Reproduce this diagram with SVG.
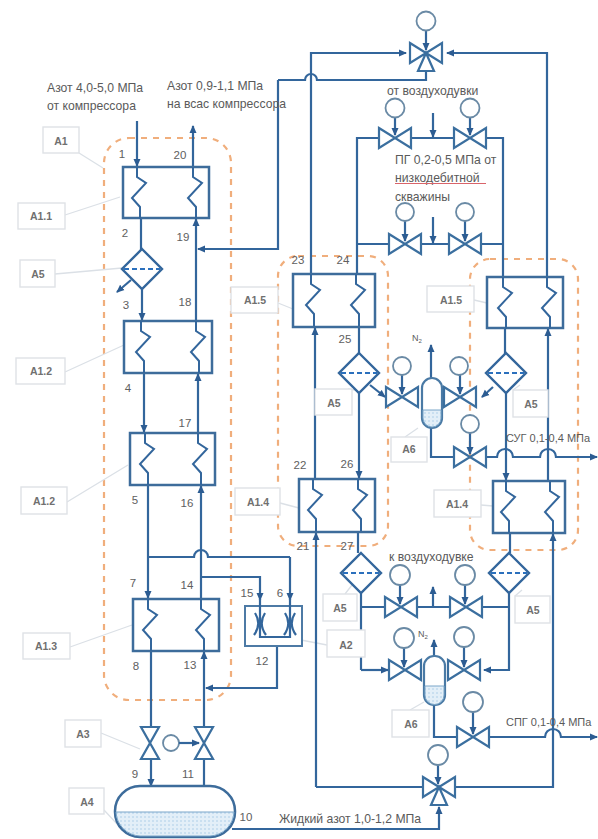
<svg xmlns="http://www.w3.org/2000/svg" width="598" height="839" viewBox="0 0 598 839">
<style>
text{font-family:"Liberation Sans",Arial,sans-serif;font-size:12.2px;fill:#5a5a5a}
.s{font-size:11px}
.n{font-size:11.5px;text-anchor:middle;fill:#606060}
.lb{font-size:10.5px;text-anchor:middle;font-weight:bold;fill:#707070}
.box{fill:#fff;stroke:#dfe2e6;stroke-width:1.4}
.lead{fill:none;stroke:#dbe0e6;stroke-width:1.3}
.zone{fill:none;stroke:#f0ae7c;stroke-width:2.2;stroke-dasharray:6 6}
.l{fill:none;stroke:#33669c;stroke-width:2.2}
.a{marker-end:url(#ah)}
.hx{fill:#fff;stroke:#3d6c9b;stroke-width:2.5}
.coil{fill:none;stroke:#33669c;stroke-width:2}
.v{fill:#fff;stroke:#3b6f9f;stroke-width:2.2;stroke-linejoin:miter}
.c{fill:#fff;stroke:#6a8aa5;stroke-width:1.8}
.d{fill:#fff;stroke:#33669c;stroke-width:2.4}
.dl{stroke:#2b70bd;stroke-width:2;stroke-dasharray:5 3}
.ves{fill:#fff;stroke:#4a7aa5;stroke-width:2.2}
.liq{fill:url(#dots);stroke:#7aa6c9;stroke-width:1}
</style>
<defs>
<marker id="ah" markerUnits="userSpaceOnUse" markerWidth="9" markerHeight="8" refX="7" refY="4" orient="auto"><path d="M0,0.5 L8,4 L0,7.5Z" fill="#2c5c92"/></marker>
<pattern id="dots" width="4" height="4" patternUnits="userSpaceOnUse"><rect width="4" height="4" fill="#e3eff8"/><circle cx="1" cy="1" r="0.8" fill="#a9cce6"/></pattern>
<path id="coil" class="coil" d="M0,0 V10 L9,16 L-5,31 L3,40 V52"/>
<path id="valveH" class="v" d="M-16,-10 L16,10 V-10 L-16,10Z"/>
<path id="valveV" class="v" d="M-9,-16 H9 L-9,16 H9Z"/>
<path id="valve3" class="v" d="M-16,-10 L16,10 V-10 L-16,10Z M0,0 L8,18 H-8Z"/>
<g id="diamond"><path class="d" d="M0,-20 L20,0 L0,20 L-20,0Z"/><path class="dl" d="M-18,0 H18"/></g>
</defs>
<rect width="598" height="839" fill="#fff"/>

<g id="zones">
<rect class="zone" x="104" y="138" width="127" height="562" rx="25"/>
<rect class="zone" x="278" y="256" width="110" height="290" rx="20"/>
<rect class="zone" x="470" y="259" width="108" height="291" rx="20"/>
</g>

<g id="leaders">
<path class="lead" d="M79,153 L103,168 M65,215 L120,197 M55,274 L122,268 M278,303 L293,309 M65,372 L124,345 M67,502 L128,465 M280,503 L299,508 M70,647 L132,625 M301,640 L327,645 M101,733 L140,749 M104,810 L118,825 M348,389 L355,390 M345,594 L352,585 M515,596 L522,590 M405,437 L418,428 M410,710 L424,702 M474,300 L487,303 M513,390 L520,385 M481,505 L493,506"/>
</g>

<g id="connectors">
<path class="l a" d="M137,121 V166"/>
<path class="l a" d="M193,167 V126"/>
<path class="l" d="M141,218 V252"/>
<path class="l a" d="M142,288 V320"/>
<path class="l a" d="M196,321 V219"/>
<path class="l a" d="M278,80 V249 H198"/>
<path class="l" d="M278,80 H305 A6,6 0 0 1 317,80 H426 V70"/>
<path class="l a" d="M311,274 V53 H406"/>
<path class="l a" d="M547,277 V53 H447"/>
<path class="l" d="M357,274 V138 H380"/>
<path class="l" d="M503,277 V138 H486"/>
<path class="l" d="M411,138 H455"/>
<path class="l a" d="M433,113 V137"/>
<path class="l" d="M357,244 H390 M420,244 H450 M480,244 H503"/>
<path class="l a" d="M433,217 V243"/>
<path class="l a" d="M315,479 V328"/>
<path class="l" d="M359,327 V356"/>
<path class="l a" d="M359,393 V478"/>
<path class="l a" d="M548,481 V329"/>
<path class="l" d="M505,328 V356"/>
<path class="l a" d="M506,393 V480"/>
<path class="l a" d="M144,373 V432"/>
<path class="l a" d="M198,433 V374"/>
<path class="l a" d="M148,485 V598"/>
<path class="l a" d="M201,599 V486"/>
<path class="l" d="M148,557 H194 A7,7 0 0 1 208,557 H290"/>
<path class="l a" d="M290,557 V600"/>
<path class="l a" d="M202,577 H260 V600"/>
<path class="l" d="M151,651 V727"/>
<path class="l a" d="M204,727 V652"/>
<path class="l a" d="M277,637 V688 H206"/>
<path class="l a" d="M151,759 V786"/>
<path class="l" d="M204,759 V786"/>
<path class="l a" d="M232,829 H439 V807"/>
<path class="l a" d="M316,787 H423 M316,787 V533"/>
<path class="l a" d="M455,787 H553 V534"/>
<path class="l" d="M358,532 V553"/>
<path class="l" d="M510,533 V553"/>
<path class="l" d="M361,593 V670"/>
<path class="l a" d="M361,670 H388"/>
<path class="l a" d="M509,593 V670 H484"/>
<path class="l" d="M361,607 H385 M417,607 H450 M482,607 H509"/>
<path class="l a" d="M433,607 V587"/>
<path class="l a" d="M431,378 V345"/>
<path class="l a" d="M434,656 V640"/>
<path class="l a" d="M370,385 L385,397"/>
<path class="l a" d="M493,387 L482,397"/>
<path class="l" d="M431,428 V457 H454"/>
<path class="l a" d="M486,457 H497 A8,8 0 0 1 513,457 H540 A8,8 0 0 1 556,457 H597"/>
<path class="l" d="M434,705 V737 H457"/>
<path class="l a" d="M489,737 H545 A8,8 0 0 1 561,737 H597"/>
<path class="l a" d="M131,280 L117,292"/>
</g>

<g id="A1-1"><rect class="hx" x="123" y="167" width="86" height="51"/><use href="#coil" x="137" y="167"/><use href="#coil" x="193" y="167"/></g>
<g id="A1-2a"><rect class="hx" x="124" y="321" width="88" height="52"/><use href="#coil" x="141" y="321"/><use href="#coil" x="196" y="321"/></g>
<g id="A1-2b"><rect class="hx" x="130" y="433" width="85" height="52"/><use href="#coil" x="145" y="433"/><use href="#coil" x="198" y="433"/></g>
<g id="A1-3"><rect class="hx" x="133" y="599" width="86" height="52"/><use href="#coil" x="148" y="599"/><use href="#coil" x="201" y="599"/></g>
<g id="A1-5l"><rect class="hx" x="293" y="274" width="82" height="53"/><use href="#coil" x="311" y="274"/><use href="#coil" x="356" y="274"/></g>
<g id="A1-4l"><rect class="hx" x="299" y="479" width="76" height="53"/><use href="#coil" x="313" y="479"/><use href="#coil" x="358" y="479"/></g>
<g id="A1-5r"><rect class="hx" x="487" y="277" width="76" height="51"/><use href="#coil" x="503" y="277"/><use href="#coil" x="547" y="277"/></g>
<g id="A1-4r"><rect class="hx" x="493" y="481" width="72" height="52"/><use href="#coil" x="506" y="481"/><use href="#coil" x="550" y="481"/></g>

<g id="A2"><rect x="245" y="606" width="57" height="40" fill="#fff" stroke="#4d7aa5" stroke-width="2"/>
<path class="l" d="M255,613 Q262,624 254,635 M265,613 Q258,624 266,635 M285,613 Q292,624 284,635 M295,613 Q288,624 296,635 M260,599 V637 H290 V599"/></g>

<g id="A5a"><use href="#diamond" x="142" y="269"/></g>
<g id="A5b"><use href="#diamond" x="359" y="373"/></g>
<g id="A5c"><use href="#diamond" x="506" y="373"/></g>
<g id="A5d"><use href="#diamond" x="361" y="573"/></g>
<g id="A5e"><use href="#diamond" x="509" y="573"/></g>

<g id="A3"><use href="#valveV" x="150" y="743"/><use href="#valveV" x="204" y="743"/><circle class="c" cx="171" cy="743" r="8"/><path class="l a" d="M179,743 H199"/></g>

<g id="A4"><rect x="115" y="786" width="120" height="51" rx="25" ry="25" fill="#fff" stroke="#3d6c9b" stroke-width="2.5"/>
<path class="liq" d="M116,812 H234 A25,25 0 0 1 210,836 H140 A25,25 0 0 1 116,812Z"/></g>

<g id="A6a"><rect class="ves" x="422" y="378" width="20" height="50" rx="10"/><path class="liq" d="M423,410 H441 V418 A9,9 0 0 1 423,418Z"/></g>
<g id="A6b"><rect class="ves" x="424" y="656" width="21" height="49" rx="10"/><path class="liq" d="M425,686 H444 V695 A9,9 0 0 1 425,695Z"/></g>

<g id="valve-top"><use href="#valve3" x="426" y="53"/><path class="l a" d="M426,30 V50"/><circle class="c" cx="426" cy="21" r="9.5"/></g>
<g id="valve-bottom"><use href="#valve3" x="439" y="787"/><path class="l a" d="M438,765 V784"/><circle class="c" cx="438" cy="755" r="10"/></g>
<g id="valve-1"><use href="#valveH" x="395" y="138"/><path class="l a" d="M395,117 V135"/><circle class="c" cx="395" cy="108" r="9.5"/></g>
<g id="valve-2"><use href="#valveH" x="470" y="138"/><path class="l a" d="M470,117 V135"/><circle class="c" cx="470" cy="108" r="9.5"/></g>
<g id="valve-3"><use href="#valveH" x="405" y="244"/><path class="l a" d="M405,221 V241"/><circle class="c" cx="405" cy="212" r="9"/></g>
<g id="valve-4"><use href="#valveH" x="465" y="244"/><path class="l a" d="M465,221 V241"/><circle class="c" cx="465" cy="212" r="9"/></g>
<g id="valve-5"><use href="#valveH" x="402" y="397"/><path class="l a" d="M402,375 V394"/><circle class="c" cx="402" cy="366" r="9"/></g>
<g id="valve-6"><use href="#valveH" x="460" y="397"/><path class="l a" d="M460,375 V394"/><circle class="c" cx="459" cy="366" r="9"/></g>
<g id="valve-7"><use href="#valveH" x="470" y="457"/><path class="l a" d="M470,433 V454"/><circle class="c" cx="470" cy="424" r="9"/></g>
<g id="valve-8"><use href="#valveH" x="401" y="607"/><path class="l a" d="M400,585 V604"/><circle class="c" cx="400" cy="575" r="10"/></g>
<g id="valve-9"><use href="#valveH" x="466" y="607"/><path class="l a" d="M465,585 V604"/><circle class="c" cx="465" cy="575" r="10"/></g>
<g id="valve-10"><use href="#valveH" x="405" y="670"/><path class="l a" d="M404,648 V667"/><circle class="c" cx="404" cy="638" r="10"/></g>
<g id="valve-11"><use href="#valveH" x="464" y="670"/><path class="l a" d="M464,647 V667"/><circle class="c" cx="464" cy="637" r="10"/></g>
<g id="valve-12"><use href="#valveH" x="473" y="737"/><path class="l a" d="M473,712 V734"/><circle class="c" cx="473" cy="702" r="10"/></g>

<g id="labels">
<rect class="box" x="43" y="127" width="36" height="26"/><text class="lb" x="61" y="145">A1</text>
<rect class="box" x="18" y="203" width="47" height="26"/><text class="lb" x="41" y="220">A1.1</text>
<rect class="box" x="20" y="260" width="35" height="27"/><text class="lb" x="38" y="278">A5</text>
<rect class="box" x="231" y="287" width="47" height="26"/><text class="lb" x="255" y="304">A1.5</text>
<rect class="box" x="16" y="358" width="49" height="26"/><text class="lb" x="41" y="375">A1.2</text>
<rect class="box" x="21" y="487" width="46" height="27"/><text class="lb" x="44" y="505">A1.2</text>
<rect class="box" x="235" y="488" width="45" height="27"/><text class="lb" x="258" y="506">A1.4</text>
<rect class="box" x="23" y="633" width="47" height="26"/><text class="lb" x="46" y="650">A1.3</text>
<rect class="box" x="327" y="630" width="38" height="27"/><text class="lb" x="346" y="649">A2</text>
<rect class="box" x="65" y="720" width="36" height="27"/><text class="lb" x="83" y="738">A3</text>
<rect class="box" x="69" y="788" width="35" height="26"/><text class="lb" x="87" y="806">A4</text>
<rect class="box" x="323" y="594" width="34" height="27"/><text class="lb" x="340" y="612">A5</text>
<rect class="box" x="392" y="710" width="37" height="27"/><text class="lb" x="411" y="728">A6</text>
<rect class="box" x="515" y="596" width="35" height="27"/><text class="lb" x="533" y="614">A5</text>
<rect class="box" x="315" y="389" width="37" height="26"/><text class="lb" x="334" y="407">A5</text>
<rect class="box" x="391" y="437" width="36" height="25"/><text class="lb" x="409" y="453">A6</text>
<rect class="box" x="427" y="286" width="47" height="26"/><text class="lb" x="451" y="304">A1.5</text>
<rect class="box" x="513" y="390" width="35" height="27"/><text class="lb" x="531" y="408">A5</text>
<rect class="box" x="434" y="490" width="47" height="27"/><text class="lb" x="457" y="508">A1.4</text>
</g>

<g id="captions">
<text x="47" y="92">Азот 4,0-5,0 МПа</text>
<text x="47" y="110">от компрессора</text>
<text x="167" y="90">Азот 0,9-1,1 МПа</text>
<text x="167" y="108">на всас компрессора</text>
<text x="387" y="95">от воздуходувки</text>
<text x="395" y="164">ПГ 0,2-0,5 МПа от</text>
<text x="395" y="182">низкодебитной</text>
<path d="M395,183.5 H486" stroke="#d9646a" stroke-width="1" fill="none"/>
<text x="395" y="201">скважины</text>
<text class="s" x="506" y="442">СУГ 0,1-0,4 МПа</text>
<text class="s" x="506" y="726">СПГ 0,1-0,4 МПа</text>
<text x="389" y="561">к воздуходувке</text>
<text x="279" y="823">Жидкий азот 1,0-1,2 МПа</text>
<text x="412" y="341" style="font-size:9px">N<tspan dy="2" style="font-size:6px">2</tspan></text>
<text x="418" y="637" style="font-size:9px">N<tspan dy="2" style="font-size:6px">2</tspan></text>
</g>

<g id="numbers">
<text class="n" x="122" y="158">1</text><text class="n" x="180" y="159">20</text>
<text class="n" x="125" y="237">2</text><text class="n" x="183" y="241">19</text>
<text class="n" x="126" y="309">3</text><text class="n" x="185" y="306">18</text>
<text class="n" x="128" y="392">4</text><text class="n" x="185" y="427">17</text>
<text class="n" x="135" y="504">5</text><text class="n" x="187" y="507">16</text>
<text class="n" x="133" y="587">7</text><text class="n" x="187" y="589">14</text>
<text class="n" x="247" y="597">15</text><text class="n" x="280" y="597">6</text>
<text class="n" x="136" y="670">8</text><text class="n" x="190" y="669">13</text>
<text class="n" x="262" y="665">12</text>
<text class="n" x="135" y="778">9</text><text class="n" x="188" y="778">11</text>
<text class="n" x="246" y="821">10</text>
<text class="n" x="298" y="264">23</text><text class="n" x="343" y="264">24</text>
<text class="n" x="345" y="343">25</text>
<text class="n" x="300" y="469">22</text><text class="n" x="347" y="468">26</text>
<text class="n" x="303" y="550">21</text><text class="n" x="347" y="550">27</text>
</g>
</svg>
